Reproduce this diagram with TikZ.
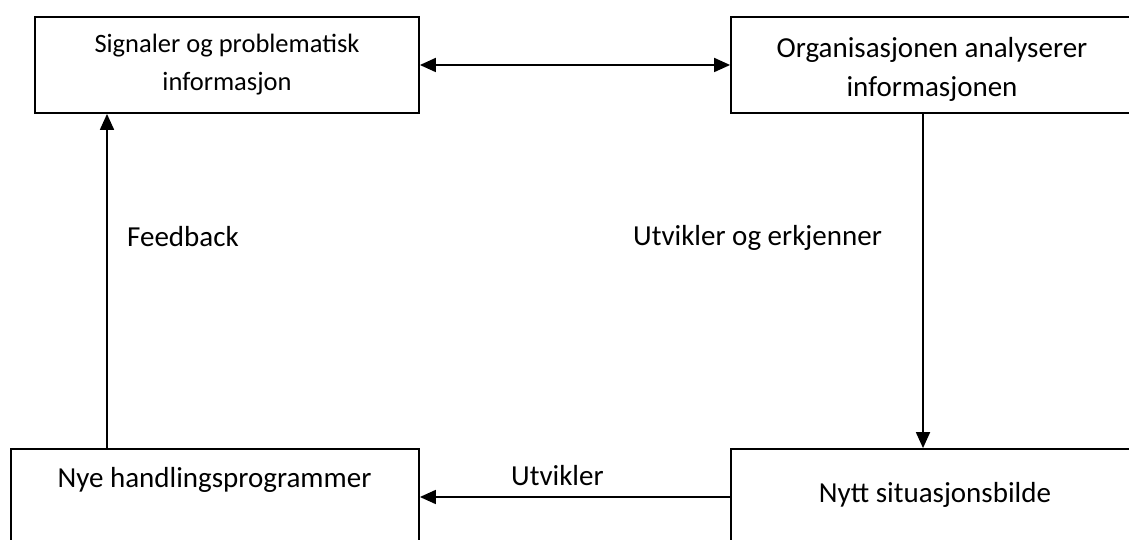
\documentclass[tikz,border=0pt]{standalone}
\usepackage{fontspec}
\setmainfont{Carlito}
\usetikzlibrary{arrows.meta}
\begin{document}
\begin{tikzpicture}[x=1pt,y=1pt,
  box/.style={draw=black,line width=1.8pt,minimum width=#1,minimum height=96pt,inner sep=0pt},
  conn/.style={line width=1.8pt,-{Triangle[length=16pt,width=14pt]}},
  big/.style={font=\fontsize{29}{39}\selectfont,inner sep=0pt},
  small/.style={font=\fontsize{26.5}{38}\selectfont,inner sep=0pt}]
\useasboundingbox (0,0) rectangle (1129,540);
\clip (0,0) rectangle (1129,540);
\node[box=384pt] (b1) at (227,475) {};
\node[box=404pt] (b2) at (933,475) {};
\node[box=408pt] (b3) at (215,43) {};
\node[box=404pt] (b4) at (933,43) {};
\node[small,anchor=base] (t1a) at (227,487) {Signaler og problematisk};
\node[small,anchor=base] (t1b) at (227,449) {informasjon};
\node[big,anchor=base] (t2a) at (932,482) {Organisasjonen analyserer};
\node[big,anchor=base] (t2b) at (932,443) {informasjonen};
\node[big,anchor=base] (t3) at (214.5,52) {Nye handlingsprogrammer};
\node[big,anchor=base] (t4) at (935,37) {Nytt situasjonsbilde};
\node[big,anchor=base west] (l1) at (127,293) {Feedback};
\node[big,anchor=base west] (l2) at (633,294) {Utvikler og erkjenner};
\node[big,anchor=base west] (l3) at (511,54) {Utvikler};
\coordinate (xr) at (923,0);
\coordinate (xl) at (107,0);
\draw[conn,{Triangle[length=16pt,width=14pt]}-{Triangle[length=16pt,width=14pt]}] (b1.east) -- (b2.west);
\draw[conn] (b2.south -| xr) -- (b4.north -| xr);
\draw[conn] (b4.west) -- (b3.east);
\draw[conn] (b3.north -| xl) -- (b1.south -| xl);
\end{tikzpicture}
\end{document}
